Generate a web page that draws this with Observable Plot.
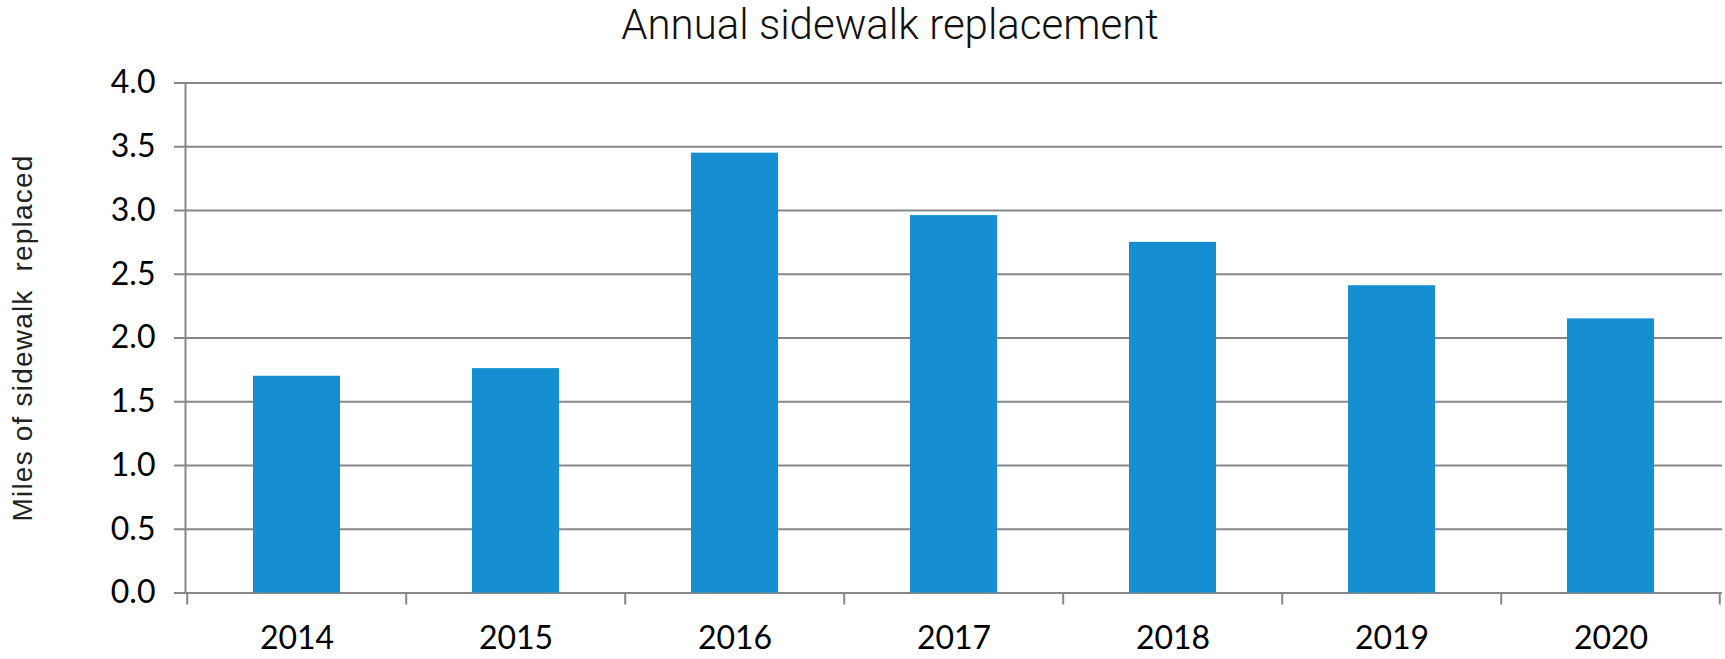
<!DOCTYPE html>
<html>
<head>
<meta charset="utf-8">
<script src="https://cdn.jsdelivr.net/npm/d3@7"></script>
<script src="https://cdn.jsdelivr.net/npm/@observablehq/plot@0.6"></script>
<style>
  html, body { margin: 0; padding: 0; background: #fff; }
  #wrap { position: relative; width: 1725px; height: 659px; }
  #title { position: absolute; top: 0px; left: 0; width: 1780px; text-align: center; z-index: 2;
           font-family: Roboto, "Liberation Sans Narrow", sans-serif; font-weight: 300;
           font-size: 42px; color: #111; line-height: normal; }
  #chart { position: absolute; top: 0; left: 0; z-index: 1; }
  .ylab text { letter-spacing: 1.2px; font-weight: 300; }
</style>
</head>
<body>
<div id="wrap">
  <div id="title">Annual sidewalk replacement</div>
  <div id="chart"></div>
</div>
<script>
const years = ["2014", "2015", "2016", "2017", "2018", "2019", "2020"];
const miles = [1.70, 1.76, 3.45, 2.96, 2.75, 2.41, 2.15];
const yTicks = [0, 0.5, 1.0, 1.5, 2.0, 2.5, 3.0, 3.5, 4.0];
const yLabel = "Miles of sidewalk  replaced";

const data = years.map((year, i) => ({year, miles: miles[i]}));

const W = 1725, H = 659;
const mL = 185, mR = 3, mT = 82.5, mB = 66.5;
const bw = (W - mL - mR) / years.length;
const plotH = H - mT - mB;
const gray = "#878787";
const tickFont = "Lato, 'Open Sans', sans-serif";

const chart = Plot.plot({
  width: W,
  height: H,
  marginLeft: mL,
  marginRight: mR,
  marginTop: mT,
  marginBottom: mB,
  style: {background: "transparent", overflow: "visible"},
  x: {domain: years, padding: 0, label: null},
  y: {domain: [0, 4], label: null},
  marks: [
    Plot.ruleY(yTicks, {stroke: gray, strokeWidth: 2}),
    Plot.barY(data, {x: "year", y: "miles", fill: "#158fd1", insetLeft: 66, insetRight: 66}),
    Plot.frame({anchor: "left", stroke: gray, strokeWidth: 2}),
    Plot.ruleX(years, {x: d => d, dx: -bw / 2, stroke: gray, strokeWidth: 2, insetTop: plotH, insetBottom: -12}),
    Plot.ruleX(years.slice(-1), {x: d => d, dx: bw / 2 - 1, stroke: gray, strokeWidth: 2, insetTop: plotH, insetBottom: -12}),
    Plot.axisY({ticks: yTicks, tickFormat: d3.format(".1f"), tickSize: 11, tickPadding: 19,
                stroke: gray, strokeWidth: 2, fontSize: 32, fontFamily: tickFont, fill: "#000", label: null}),
    Plot.axisX({tickSize: 0, tickPadding: 33, fontSize: 32, fontFamily: tickFont, fill: "#000", label: null}),
    Plot.text([yLabel], {text: d => d, frameAnchor: "left", textAnchor: "middle", rotate: -90, dx: -162, dy: 0,
                         fontSize: 28, fontFamily: "'Liberation Sans', Arial, sans-serif", fill: "#222",
                         className: "ylab"})
  ]
});
document.getElementById("chart").appendChild(chart);
</script>
</body>
</html>
